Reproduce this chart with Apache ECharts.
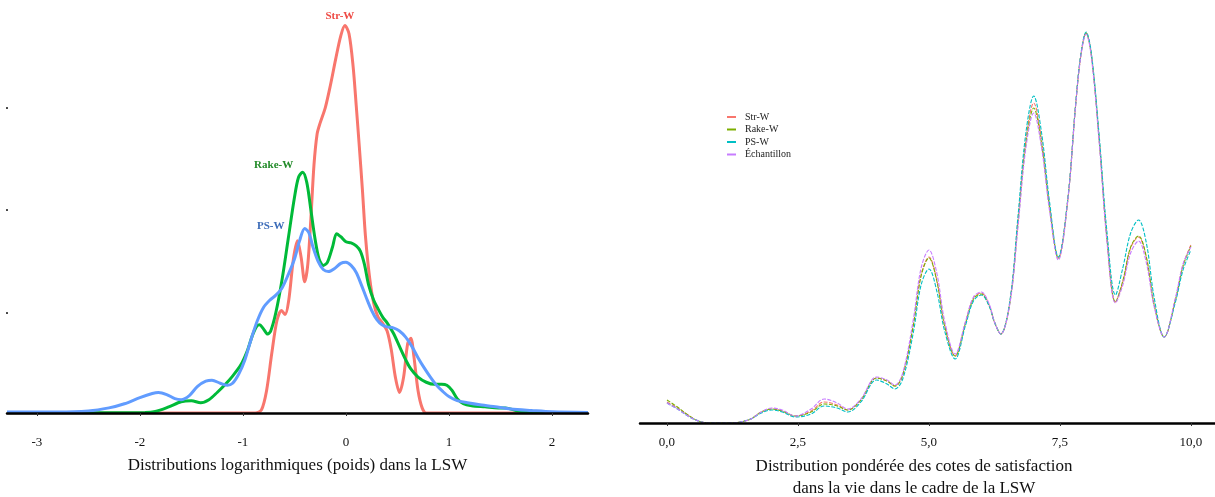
<!DOCTYPE html>
<html>
<head>
<meta charset="utf-8">
<script src="https://cdn.jsdelivr.net/npm/echarts@6.0.0/dist/echarts.min.js"></script>
<style>
  html, body { margin: 0; padding: 0; background: #ffffff; }
  #chart { width: 1215px; height: 497px; }
</style>
</head>
<body>
<div id="chart"></div>
<script>
// ---- Left panel: densities of log(weight), [log weight, density] ----
const logTicks = [-3, -2, -1, 0, 1, 2];
const logDensityTicks = [1, 2, 3];

const strWLog = [[-3.29,0],[-1.0,0],[-0.88,0],[-0.82,0.03],[-0.77,0.22],[-0.72,0.58],[-0.67,0.9],[-0.625,1.0],[-0.59,0.96],[-0.555,1.1],[-0.51,1.5],[-0.47,1.68],[-0.435,1.52],[-0.40,1.28],[-0.37,1.45],[-0.34,1.9],[-0.31,2.42],[-0.28,2.72],[-0.25,2.83],[-0.20,2.98],[-0.15,3.2],[-0.10,3.45],[-0.05,3.68],[-0.01,3.78],[0.03,3.7],[0.07,3.38],[0.10,3.0],[0.13,2.6],[0.16,2.18],[0.19,1.72],[0.23,1.32],[0.27,1.07],[0.31,0.94],[0.36,0.87],[0.40,0.8],[0.44,0.62],[0.48,0.35],[0.52,0.2],[0.56,0.35],[0.60,0.68],[0.63,0.73],[0.66,0.55],[0.70,0.22],[0.74,0.05],[0.78,0],[2.35,0]];

const rakeWLog = [[-3.29,0.003],[-2.4,0.003],[-1.95,0.005],[-1.85,0.015],[-1.72,0.06],[-1.6,0.11],[-1.5,0.12],[-1.41,0.1],[-1.33,0.13],[-1.25,0.2],[-1.17,0.28],[-1.1,0.36],[-1.02,0.47],[-0.96,0.6],[-0.91,0.75],[-0.87,0.84],[-0.84,0.86],[-0.80,0.82],[-0.76,0.77],[-0.73,0.8],[-0.68,0.98],[-0.62,1.3],[-0.56,1.7],[-0.50,2.1],[-0.46,2.3],[-0.42,2.35],[-0.38,2.25],[-0.34,1.98],[-0.30,1.7],[-0.26,1.5],[-0.22,1.44],[-0.18,1.47],[-0.13,1.62],[-0.09,1.75],[-0.05,1.72],[0.0,1.67],[0.05,1.66],[0.10,1.63],[0.14,1.58],[0.18,1.45],[0.22,1.25],[0.27,1.1],[0.31,1.02],[0.36,0.93],[0.40,0.88],[0.46,0.78],[0.52,0.65],[0.58,0.52],[0.63,0.43],[0.70,0.35],[0.78,0.3],[0.86,0.28],[0.93,0.28],[0.98,0.27],[1.03,0.22],[1.08,0.14],[1.14,0.09],[1.22,0.07],[1.35,0.06],[1.48,0.05],[1.55,0.05],[1.65,0.025],[1.75,0.01],[1.9,0.005],[2.35,0.003]];

const psWLog = [[-3.29,0.01],[-2.8,0.01],[-2.5,0.02],[-2.3,0.05],[-2.15,0.09],[-2.0,0.15],[-1.88,0.19],[-1.82,0.2],[-1.74,0.18],[-1.66,0.14],[-1.6,0.13],[-1.52,0.17],[-1.44,0.26],[-1.36,0.31],[-1.3,0.32],[-1.22,0.29],[-1.15,0.27],[-1.1,0.29],[-1.04,0.38],[-0.98,0.52],[-0.92,0.72],[-0.86,0.9],[-0.8,1.03],[-0.74,1.1],[-0.68,1.15],[-0.62,1.22],[-0.56,1.35],[-0.5,1.5],[-0.45,1.68],[-0.40,1.8],[-0.36,1.76],[-0.32,1.62],[-0.27,1.48],[-0.22,1.4],[-0.17,1.38],[-0.11,1.41],[-0.05,1.46],[0.0,1.47],[0.05,1.44],[0.1,1.37],[0.15,1.25],[0.2,1.12],[0.25,1.0],[0.3,0.91],[0.35,0.86],[0.4,0.84],[0.46,0.83],[0.52,0.8],[0.58,0.74],[0.64,0.65],[0.7,0.54],[0.76,0.44],[0.82,0.35],[0.88,0.27],[0.94,0.21],[1.0,0.16],[1.08,0.12],[1.18,0.1],[1.3,0.08],[1.45,0.06],[1.6,0.04],[1.8,0.025],[2.0,0.012],[2.35,0.006]];

// ---- Right panel: weighted density of life-satisfaction scores, [score, density] ----
const scoreTicks = [0, 2.5, 5, 7.5, 10];
const legendNames = ['Str-W', 'Rake-W', 'PS-W', 'Échantillon'];

const strWScore = [[0,0.021],[0.2,0.015],[0.4,0.008],[0.6,0.002],[0.8,0.0],[1.0,0.0],[1.2,0.0],[1.4,0.001],[1.6,0.004],[1.8,0.011],[2.0,0.014],[2.2,0.012],[2.45,0.007],[2.75,0.012],[3.0,0.021],[3.25,0.018],[3.45,0.013],[3.7,0.023],[4.0,0.045],[4.2,0.042],[4.35,0.037],[4.5,0.048],[4.7,0.098],[4.85,0.148],[5.0,0.166],[5.15,0.143],[5.3,0.098],[5.5,0.067],[5.7,0.101],[5.85,0.125],[6.0,0.130],[6.15,0.118],[6.25,0.101],[6.37,0.089],[6.55,0.123],[6.7,0.203],[6.85,0.283],[7.0,0.320],[7.15,0.283],[7.3,0.218],[7.47,0.165],[7.65,0.223],[7.8,0.318],[7.9,0.368],[8.0,0.390],[8.1,0.368],[8.25,0.283],[8.4,0.183],[8.56,0.121],[8.7,0.141],[8.85,0.175],[9.0,0.186],[9.15,0.165],[9.3,0.118],[9.49,0.086],[9.7,0.123],[9.85,0.158],[10.0,0.178]];

const rakeWScore = [[0,0.023],[0.2,0.016],[0.4,0.008],[0.6,0.002],[0.8,0.0],[1.0,0.0],[1.2,0.0],[1.4,0.001],[1.6,0.004],[1.8,0.011],[2.0,0.014],[2.2,0.012],[2.45,0.007],[2.75,0.011],[3.0,0.019],[3.25,0.017],[3.45,0.013],[3.7,0.023],[4.0,0.045],[4.2,0.042],[4.35,0.037],[4.5,0.048],[4.7,0.097],[4.85,0.147],[5.0,0.165],[5.15,0.142],[5.3,0.097],[5.5,0.067],[5.7,0.100],[5.85,0.124],[6.0,0.129],[6.15,0.117],[6.25,0.101],[6.37,0.089],[6.55,0.122],[6.7,0.200],[6.85,0.279],[7.0,0.315],[7.15,0.279],[7.3,0.216],[7.47,0.165],[7.65,0.223],[7.8,0.318],[7.9,0.368],[8.0,0.390],[8.1,0.368],[8.25,0.283],[8.4,0.183],[8.56,0.121],[8.7,0.142],[8.85,0.176],[9.0,0.187],[9.15,0.166],[9.3,0.118],[9.49,0.086],[9.7,0.122],[9.85,0.157],[10.0,0.177]];

const psWScore = [[0,0.020],[0.2,0.014],[0.4,0.007],[0.6,0.002],[0.8,0.0],[1.0,0.0],[1.2,0.0],[1.4,0.001],[1.6,0.004],[1.8,0.010],[2.0,0.013],[2.2,0.011],[2.45,0.006],[2.75,0.009],[3.0,0.017],[3.25,0.015],[3.45,0.011],[3.7,0.021],[4.0,0.043],[4.2,0.039],[4.35,0.034],[4.5,0.044],[4.7,0.090],[4.85,0.138],[5.0,0.154],[5.15,0.132],[5.3,0.092],[5.5,0.064],[5.7,0.098],[5.85,0.122],[6.0,0.128],[6.15,0.117],[6.25,0.101],[6.37,0.089],[6.55,0.124],[6.7,0.207],[6.85,0.290],[7.0,0.327],[7.15,0.290],[7.3,0.222],[7.47,0.166],[7.65,0.224],[7.8,0.319],[7.9,0.369],[8.0,0.391],[8.1,0.370],[8.25,0.287],[8.4,0.190],[8.56,0.128],[8.7,0.155],[8.85,0.190],[9.0,0.203],[9.15,0.180],[9.3,0.125],[9.49,0.086],[9.7,0.120],[9.85,0.153],[10.0,0.173]];

const sampleScore = [[0,0.020],[0.2,0.014],[0.4,0.007],[0.6,0.002],[0.8,0.0],[1.0,0.0],[1.2,0.0],[1.4,0.001],[1.6,0.004],[1.8,0.011],[2.0,0.015],[2.2,0.013],[2.45,0.007],[2.75,0.014],[3.0,0.024],[3.25,0.020],[3.45,0.014],[3.7,0.024],[4.0,0.046],[4.2,0.043],[4.35,0.038],[4.5,0.050],[4.7,0.103],[4.85,0.155],[5.0,0.173],[5.15,0.150],[5.3,0.102],[5.5,0.069],[5.7,0.102],[5.85,0.126],[6.0,0.131],[6.15,0.119],[6.25,0.101],[6.37,0.089],[6.55,0.121],[6.7,0.196],[6.85,0.275],[7.0,0.310],[7.15,0.275],[7.3,0.213],[7.47,0.163],[7.65,0.222],[7.8,0.317],[7.9,0.367],[8.0,0.389],[8.1,0.366],[8.25,0.280],[8.4,0.180],[8.56,0.120],[8.7,0.138],[8.85,0.170],[9.0,0.182],[9.15,0.160],[9.3,0.116],[9.49,0.086],[9.7,0.124],[9.85,0.159],[10.0,0.176]];

const SERIF = '"Liberation Serif", "DejaVu Serif", serif';

const chart = echarts.init(document.getElementById('chart'), null, { renderer: 'canvas' });

function peakLabel(point, text, color, offset) {
  return {
    symbol: 'circle',
    symbolSize: 0,
    silent: true,
    data: [{ coord: point }],
    label: {
      show: true,
      position: 'inside',
      formatter: text,
      offset: offset,
      color: color,
      fontFamily: SERIF,
      fontWeight: 'bold',
      fontSize: 11
    }
  };
}

function leftLine(name, data, color, label) {
  return {
    name: name,
    type: 'line',
    xAxisIndex: 0,
    yAxisIndex: 0,
    data: data,
    showSymbol: false,
    smooth: 0.3,
    lineStyle: { color: color, width: 3 },
    itemStyle: { color: color },
    markPoint: label,
    animation: false
  };
}

function rightLine(name, data, color) {
  return {
    name: name,
    type: 'line',
    xAxisIndex: 1,
    yAxisIndex: 1,
    data: data,
    showSymbol: false,
    smooth: 0.35,
    lineStyle: { color: color, width: 1.1, type: [4, 1.5] },
    itemStyle: { color: color },
    animation: false
  };
}

const option = {
  backgroundColor: '#ffffff',
  animation: false,
  grid: [
    { left: 7, right: 627, top: 3, bottom: 84, outerBoundsMode: 'none', containLabel: false },
    { left: 640, right: 0, top: 13, bottom: 74, outerBoundsMode: 'none', containLabel: false }
  ],
  legend: {
    data: legendNames,
    orient: 'vertical',
    left: 722,
    top: 107,
    icon: 'rect',
    itemWidth: 9,
    itemHeight: 2,
    itemGap: 2.5,
    selectedMode: false,
    textStyle: {
      fontFamily: SERIF,
      fontSize: 10,
      lineHeight: 10,
      color: '#222',
      padding: [0, 0, 0, 4]
    }
  },
  xAxis: [
    {
      type: 'value',
      gridIndex: 0,
      min: -3.29,
      max: 2.35,
      z: 5,
      splitLine: { show: false },
      axisLine: { show: true, onZero: false, lineStyle: { color: '#000', width: 2.5 } },
      axisTick: { show: true, customValues: logTicks, length: 3, lineStyle: { color: '#333', width: 1 } },
      axisLabel: {
        customValues: logTicks,
        margin: 23,
        color: '#111',
        fontFamily: SERIF,
        fontSize: 13
      },
      name: 'Distributions logarithmiques (poids) dans la LSW',
      nameLocation: 'middle',
      nameGap: 44,
      nameTextStyle: { fontFamily: SERIF, fontSize: 17, color: '#111' }
    },
    {
      type: 'value',
      gridIndex: 1,
      min: -0.515,
      max: 10.46,
      z: 5,
      splitLine: { show: false },
      axisLine: { show: true, onZero: false, lineStyle: { color: '#000', width: 2.5 } },
      axisTick: { show: true, customValues: scoreTicks, length: 3, lineStyle: { color: '#333', width: 1 } },
      axisLabel: {
        customValues: scoreTicks,
        margin: 13,
        color: '#111',
        fontFamily: SERIF,
        fontSize: 13,
        formatter: v => v.toFixed(1).replace('.', ',')
      },
      name: 'Distribution pondérée des cotes de satisfaction\ndans la vie dans le cadre de la LSW',
      nameLocation: 'middle',
      nameGap: 33,
      nameTextStyle: { fontFamily: SERIF, fontSize: 17, lineHeight: 22, color: '#111', padding: [0, 27, 0, 0] }
    }
  ],
  yAxis: [
    {
      type: 'value',
      gridIndex: 0,
      min: 0,
      max: 4,
      interval: 1,
      splitLine: { show: false },
      axisLine: { show: false },
      axisTick: { show: false },
      axisLabel: {
        customValues: logDensityTicks,
        formatter: () => '.',
        align: 'center',
        margin: 0,
        fontSize: 12,
        fontWeight: 'bold',
        color: '#111',
        fontFamily: SERIF
      }
    },
    {
      type: 'value',
      gridIndex: 1,
      min: 0,
      max: 0.41,
      show: false,
      splitLine: { show: false }
    }
  ],
  series: [
    leftLine('Str-W (log)', strWLog, '#F8766D', peakLabel([-0.01, 3.78], 'Str-W', '#EE4B45', [-5, -9])),
    leftLine('Rake-W (log)', rakeWLog, '#00BA38', peakLabel([-0.42, 2.35], 'Rake-W', '#238B2A', [-29, -7])),
    leftLine('PS-W (log)', psWLog, '#619CFF', peakLabel([-0.40, 1.80], 'PS-W', '#3C6CB8', [-34, -2])),
    rightLine('Str-W', strWScore, '#F8766D'),
    rightLine('Rake-W', rakeWScore, '#7CAE00'),
    rightLine('PS-W', psWScore, '#00BFC4'),
    rightLine('Échantillon', sampleScore, '#C77CFF')
  ]
};

chart.setOption(option);
</script>
</body>
</html>
